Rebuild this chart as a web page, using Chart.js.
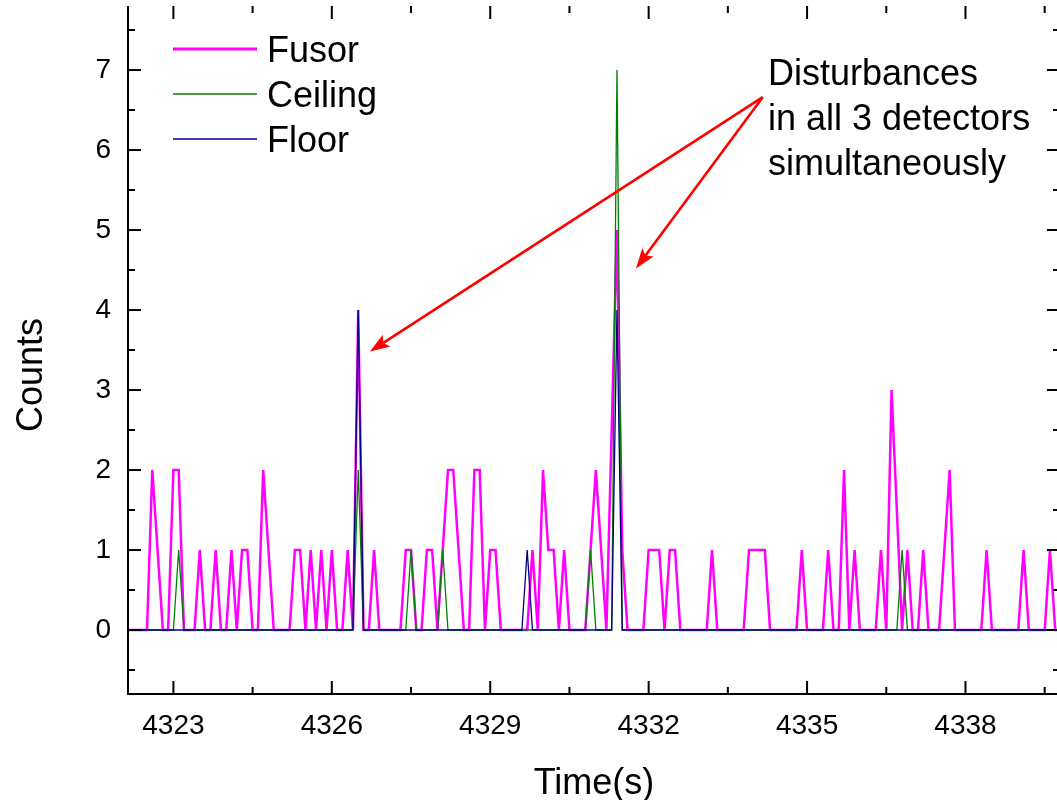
<!DOCTYPE html>
<html><head><meta charset="utf-8">
<script src="https://cdn.jsdelivr.net/npm/chart.js@4.4.1/dist/chart.umd.min.js"></script>
<style>
html,body{margin:0;padding:0;background:#fff;overflow:hidden;}
#wrap{width:1061px;height:800px;}
</style></head><body>
<div id="wrap"><canvas id="c" width="1061" height="800"></canvas></div>
<script>
// ---- tick labels ----
const xTickValues = [4323, 4326, 4329, 4332, 4335, 4338];
const yTickValues = [0, 1, 2, 3, 4, 5, 6, 7];

// ---- series (polyline vertices) ----
const fusorTime = [
 4322.1, 4322.5, 4322.6, 4322.8, 4322.9, 4323.0, 4323.1, 4323.2, 4323.4, 4323.5,
 4323.6, 4323.7, 4323.8, 4323.9, 4324.0, 4324.1, 4324.2, 4324.3, 4324.4, 4324.5,
 4324.6, 4324.7, 4324.9, 4325.2, 4325.3, 4325.4, 4325.5, 4325.6, 4325.7, 4325.8,
 4325.9, 4326.0, 4326.1, 4326.2, 4326.3, 4326.4, 4326.5, 4326.6, 4326.7, 4326.8,
 4326.9, 4327.3, 4327.4, 4327.5, 4327.6, 4327.7, 4327.8, 4327.9, 4328.0, 4328.2,
 4328.3, 4328.5, 4328.6, 4328.7, 4328.8, 4328.9, 4329.0, 4329.1, 4329.2, 4329.7,
 4329.8, 4329.9, 4330.0, 4330.1, 4330.2, 4330.3, 4330.4, 4330.5, 4330.8, 4331.0,
 4331.2, 4331.4, 4331.5, 4331.6, 4331.9, 4332.0, 4332.2, 4332.3, 4332.4, 4332.5,
 4332.6, 4333.1, 4333.2, 4333.3, 4333.8, 4333.9, 4334.2, 4334.3, 4334.8, 4334.9,
 4335.0, 4335.3, 4335.4, 4335.5, 4335.6, 4335.7, 4335.8, 4335.9, 4336.0, 4336.3,
 4336.4, 4336.5, 4336.6, 4336.8, 4336.9, 4337.0, 4337.1, 4337.2, 4337.3, 4337.5,
 4337.7, 4337.8, 4338.3, 4338.4, 4338.5, 4339.0, 4339.1, 4339.2, 4339.5, 4339.6,
 4339.7, 4339.9
];
const fusorCounts = [
 0,0,2,0,0,2,2,0,0,1,
 0,0,1,0,0,1,0,1,1,0,
 0,2,0,0,1,1,0,1,0,1,
 0,1,0,0,1,0,4,0,0,1,
 0,0,1,1,0,0,1,1,0,2,
 2,0,0,2,2,0,1,1,0,0,
 1,0,2,1,1,0,1,0,0,2,
 0,5,1,0,0,1,1,0,1,1,
 0,0,1,0,0,1,1,0,0,1,
 0,0,1,0,0,2,0,1,0,0,
 1,0,3,0,1,0,0,1,0,0,
 2,0,0,1,0,0,1,0,0,1,
 0,0
];
const ceilingTime = [4322.1, 4323.0, 4323.1, 4323.2, 4326.4, 4326.5, 4326.6, 4327.4, 4327.5, 4327.6,
 4328.0, 4328.1, 4328.2, 4330.8, 4330.9, 4331.0, 4331.3, 4331.4, 4331.5, 4336.7, 4336.8, 4336.9, 4339.9];
const ceilingCounts = [0,0,1,0,0,2,0,0,1,0, 0,1,0,0,1,0,0,7,0,0,1,0,0];
const floorTime = [4322.1, 4326.4, 4326.5, 4326.6, 4329.6, 4329.7, 4329.8, 4331.3, 4331.4, 4331.5, 4339.9];
const floorCounts = [0,0,4,0,0,1,0,0,4,0,0];

const seriesNames = ['Fusor', 'Ceiling', 'Floor'];
const annotationLines = ['Disturbances', 'in all 3 detectors', 'simultaneously'];

// ---- styling / layout (not data) ----
const FONT = '"Liberation Sans", Arial, Helvetica, sans-serif';
const colors = ['#FF00FF', '#008000', '#000080'];
const widths = [2.5, 1.3, 1.3];
const arrowTail = {x: 4334.16, y: 6.66};
const arrowTips = [{x: 4326.72, y: 3.48}, {x: 4331.76, y: 4.52}];
const annot = {x: 4334.26, ys: [6.81, 6.25, 5.69]};

function pts(t, c){ return t.map((v,i)=>({x:v, y:c[i]})); }

function drawArrow(ctx, x0, y0, x1, y1){
  const ang = Math.atan2(y1-y0, x1-x0);
  const L = 20, W = 7;
  const bx = x1 - L*Math.cos(ang), by = y1 - L*Math.sin(ang);
  ctx.strokeStyle = '#FF0000'; ctx.fillStyle = '#FF0000'; ctx.lineWidth = 2.6;
  ctx.beginPath(); ctx.moveTo(x0,y0); ctx.lineTo(bx + 4*Math.cos(ang), by + 4*Math.sin(ang)); ctx.stroke();
  ctx.beginPath();
  ctx.moveTo(x1,y1);
  ctx.lineTo(bx + W*Math.sin(ang), by - W*Math.cos(ang));
  ctx.lineTo(bx + 4*Math.cos(ang), by + 4*Math.sin(ang));
  ctx.lineTo(bx - W*Math.sin(ang), by + W*Math.cos(ang));
  ctx.closePath(); ctx.fill();
}

const framePlugin = {
  id: 'frame',
  afterDraw(chart){
    const {ctx, chartArea: a, scales: {x, y}} = chart;
    ctx.save();
    ctx.strokeStyle = '#000'; ctx.lineWidth = 2;
    ctx.beginPath();
    ctx.moveTo(a.left, a.top); ctx.lineTo(a.left, a.bottom); ctx.lineTo(a.right, a.bottom);
    ctx.stroke();
    const MAJ = 13, MIN = 7;
    const xMinor = [];
    xTickValues.forEach(v => { [v-1.5, v+1.5].forEach(m => { if (!xMinor.includes(m)) xMinor.push(m); }); });
    const yMinor = [-0.5].concat(yTickValues.map(v => v + 0.5));
    ctx.beginPath();
    const xt = (v, len) => {
      const px = x.getPixelForValue(v);
      if (px < a.left || px > a.right) return;
      ctx.moveTo(px, a.bottom); ctx.lineTo(px, a.bottom - len);
      ctx.moveTo(px, a.top); ctx.lineTo(px, a.top + len);
    };
    const yt = (v, len) => {
      const py = y.getPixelForValue(v);
      if (py < a.top || py > a.bottom) return;
      ctx.moveTo(a.left, py); ctx.lineTo(a.left + len, py);
      ctx.moveTo(a.right, py); ctx.lineTo(a.right - len, py);
    };
    xTickValues.forEach(v => xt(v, MAJ));
    xMinor.forEach(v => xt(v, MIN));
    yTickValues.forEach(v => yt(v, MAJ));
    yMinor.forEach(v => yt(v, MIN));
    ctx.stroke();

    ctx.fillStyle = '#000';
    ctx.font = '36px ' + FONT;
    ctx.textAlign = 'center'; ctx.textBaseline = 'alphabetic';
    ctx.fillText('Time(s)', (a.left + a.right)/2, 794);
    ctx.save();
    ctx.translate(41.5, 375); ctx.rotate(-Math.PI/2);
    ctx.fillText('Counts', 0, 0);
    ctx.restore();

    ctx.textAlign = 'left';
    seriesNames.forEach((n, i) => {
      const ly = a.top + 43 + i*45;
      ctx.strokeStyle = colors[i]; ctx.lineWidth = widths[i] + (i ? 0.3 : 0.5);
      ctx.beginPath(); ctx.moveTo(a.left + 45, ly); ctx.lineTo(a.left + 129, ly); ctx.stroke();
      ctx.fillStyle = '#000';
      ctx.fillText(n, a.left + 139, ly + 12.7);
    });

    annotationLines.forEach((t, i) => {
      ctx.fillText(t, x.getPixelForValue(annot.x), y.getPixelForValue(annot.ys[i]));
    });
    const tx = x.getPixelForValue(arrowTail.x), ty = y.getPixelForValue(arrowTail.y);
    arrowTips.forEach(p => drawArrow(ctx, tx, ty, x.getPixelForValue(p.x), y.getPixelForValue(p.y)));
    ctx.restore();
  }
};

new Chart(document.getElementById('c'), {
  type: 'line',
  data: {
    datasets: [
      {label: seriesNames[0], data: pts(fusorTime, fusorCounts), borderColor: colors[0], borderWidth: widths[0], pointRadius: 0, tension: 0, order: 3, fill: false},
      {label: seriesNames[1], data: pts(ceilingTime, ceilingCounts), borderColor: colors[1], borderWidth: widths[1], pointRadius: 0, tension: 0, order: 2, fill: false},
      {label: seriesNames[2], data: pts(floorTime, floorCounts), borderColor: colors[2], borderWidth: widths[2], pointRadius: 0, tension: 0, order: 1, fill: false}
    ]
  },
  options: {
    responsive: false, animation: false, devicePixelRatio: 1,
    layout: {padding: {top: 6, right: 1, left: 0, bottom: 0}},
    plugins: {legend: {display: false}, tooltip: {enabled: false}},
    scales: {
      x: {
        type: 'linear', min: 4322.14, max: 4339.79,
        afterBuildTicks: s => { s.ticks = xTickValues.map(v => ({value: v})); },
        afterFit: s => { s.height = 106; s.paddingLeft = 0; s.paddingRight = 0; s.paddingTop = 0; s.paddingBottom = 0; },
        grid: {display: false, drawTicks: false}, border: {display: false},
        ticks: {font: {family: FONT, size: 28}, color: '#000', padding: 15, maxRotation: 0, autoSkip: false,
                callback: v => String(v)}
      },
      y: {
        type: 'linear', min: -0.8, max: 7.8,
        afterBuildTicks: s => { s.ticks = yTickValues.map(v => ({value: v})); },
        afterFit: s => { s.width = 128; s.paddingTop = 0; s.paddingBottom = 0; s.paddingLeft = 0; s.paddingRight = 0; },
        grid: {display: false, drawTicks: false}, border: {display: false},
        ticks: {font: {family: FONT, size: 28}, color: '#000', padding: 17, callback: v => String(v)}
      }
    }
  },
  plugins: [framePlugin]
});
</script>
</body></html>
